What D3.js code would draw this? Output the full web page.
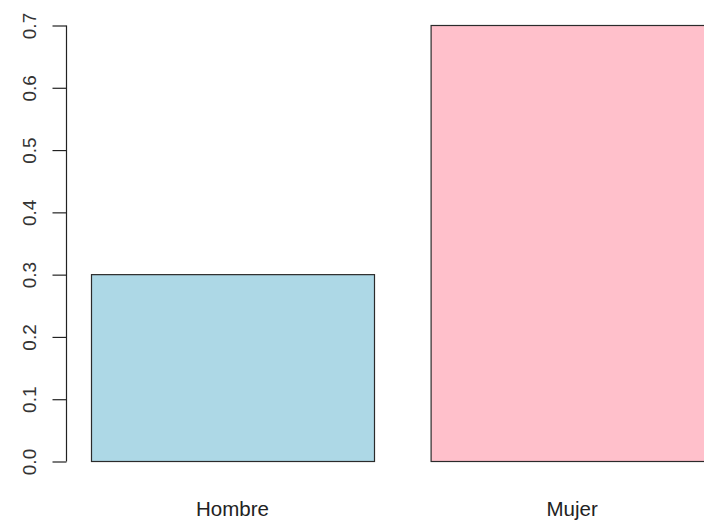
<!DOCTYPE html>
<html>
<head>
<meta charset="utf-8">
<script src="https://cdn.jsdelivr.net/npm/d3@7"></script>
<style>
  html, body { margin: 0; padding: 0; background: #fff; }
  svg { display: block; }
</style>
</head>
<body>
<svg id="chart" width="704" height="522"></svg>
<script>
const categories = ["Hombre", "Mujer"];
const values = [0.3, 0.7];
const colors = ["#ADD8E6", "#FFC0CB"];
const yTicks = [0, 0.1, 0.2, 0.3, 0.4, 0.5, 0.6, 0.7];

const svg = d3.select("#chart");
const fontFamily = "'Liberation Sans', Arial, sans-serif";

const x = d3.scaleBand()
  .domain(categories)
  .range([91, 713.6])
  .paddingInner(1 / 6)
  .paddingOuter(0);

const y = d3.scaleLinear()
  .domain([0, 0.7])
  .range([461, 25]);

// bars
svg.append("g")
  .selectAll("rect")
  .data(categories)
  .join("rect")
  .attr("x", d => x(d) + 0.5)
  .attr("y", (d, i) => y(values[i]) + 0.5)
  .attr("width", x.bandwidth())
  .attr("height", (d, i) => y(0) - y(values[i]))
  .attr("fill", (d, i) => colors[i])
  .attr("stroke", "#2b2b2b")
  .attr("stroke-width", 1.2);

// y axis
const yAxis = d3.axisLeft(y)
  .tickValues(yTicks)
  .tickFormat(d3.format(".1f"))
  .tickSize(14)
  .tickPadding(0);

const gy = svg.append("g")
  .attr("transform", "translate(66.5,0.5)")
  .call(yAxis);
gy.select(".domain").attr("stroke", "#222").attr("stroke-width", 1.2).attr("d", `M0,${y(0.7)}V${y(0)}`);
gy.selectAll(".tick line").attr("stroke", "#222").attr("stroke-width", 1.2);
gy.selectAll(".tick text")
  .attr("font-family", fontFamily)
  .attr("font-size", 19)
  .attr("fill", "#333")
  .attr("text-anchor", "middle")
  .attr("transform", "translate(-31,0) rotate(-90)")
  .attr("x", 0)
  .attr("y", 0)
  .attr("dy", "0.0em");

// x labels
svg.append("g")
  .selectAll("text")
  .data(categories)
  .join("text")
  .attr("x", d => x(d) + x.bandwidth() / 2)
  .attr("y", 516)
  .attr("text-anchor", "middle")
  .attr("font-family", fontFamily)
  .attr("font-size", 20.5)
  .attr("fill", "#222")
  .text(d => d);
</script>
</body>
</html>
